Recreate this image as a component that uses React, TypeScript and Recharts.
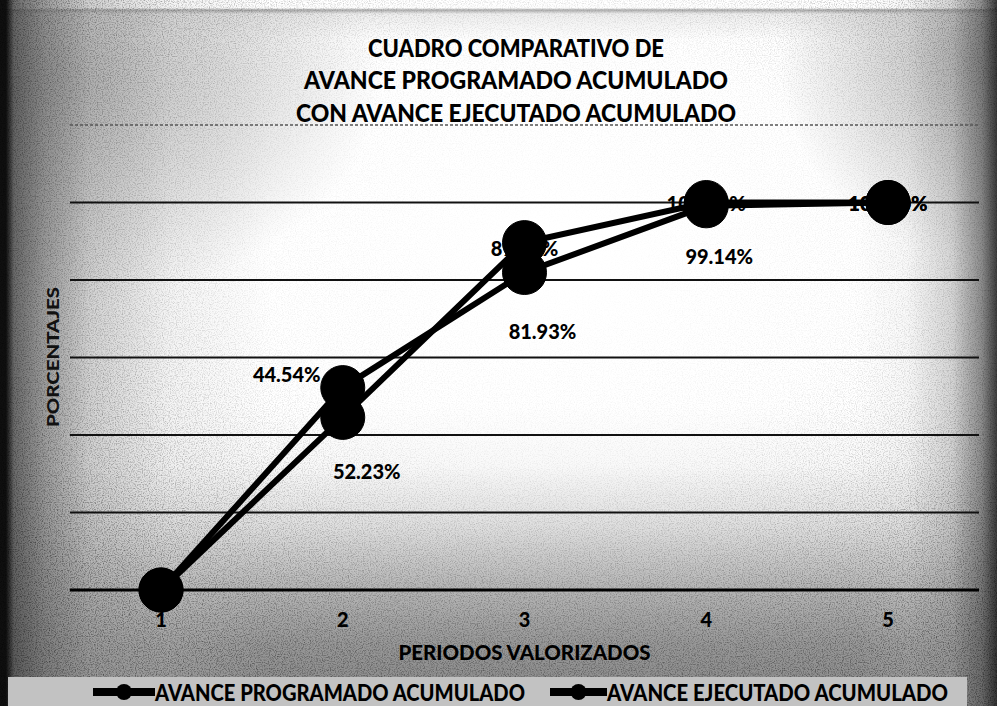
import React from 'react';
import { LineChart, Line, XAxis, YAxis, CartesianGrid, Legend, LabelList } from 'recharts';

// ---- data ----
const periods = ['1', '2', '3', '4', '5'];
const programado = [0, 44.54, 89.65, 100.0, 100.0];
const ejecutado = [0, 52.23, 81.93, 99.14, 100.0];
const yTicks = [0, 20, 40, 60, 80, 100, 120];
const titleLines = ['CUADRO COMPARATIVO DE', 'AVANCE PROGRAMADO ACUMULADO', 'CON AVANCE EJECUTADO ACUMULADO'];
const seriesNames = ['AVANCE PROGRAMADO ACUMULADO', 'AVANCE EJECUTADO ACUMULADO'];
const xTitle = 'PERIODOS VALORIZADOS';
const yTitle = 'PORCENTAJES';

const data = periods.map((p, i) => ({ periodo: p, programado: programado[i], ejecutado: ejecutado[i] }));

// ---- styling ----
const W = 997;
const H = 706;
const FONT = 'Lato, "Open Sans", sans-serif';
// label offsets (dx, dy) from each point, per series
const progLabelOffsets: (number[] | null)[] = [null, [-56, -43], [0, 5], [0, 0], [0, 0]];
const ejecLabelOffsets: (number[] | null)[] = [null, [24, 83], [18, 58], [13, 50], [0, 0]];

const makeLabel = (offsets: (number[] | null)[]) => (props: any) => {
  const { x, y, value, index } = props;
  const off = offsets[index];
  if (!off) return null;
  return (
    <text
      x={x + off[0]}
      y={y + off[1]}
      textAnchor="middle"
      dominantBaseline="central"
      fill="#000"
      fontFamily={FONT}
      fontWeight={900}
      fontSize={20}
    >
      {Number(value).toFixed(2)}%
    </text>
  );
};

const EmptyTick = () => <g />;

const GridLine = (props: any) => {
  const { x1, x2, y1, y2 } = props;
  const isTop = y1 < 130;
  return (
    <line
      x1={x1}
      x2={x2}
      y1={y1}
      y2={y2}
      stroke={isTop ? '#555' : '#111'}
      strokeWidth={isTop ? 1.5 : 2}
      strokeDasharray={isTop ? '3 2' : undefined}
    />
  );
};

const renderLegend = (props: any) => {
  const payload = props.payload || [];
  const itemX = [85, 542];
  const iconW = [62, 57];
  const textW = [370, 341];
  return (
    <svg width={959} height={29} style={{ display: 'block', overflow: 'visible' }}>
      {payload.map((entry: any, i: number) => (
        <g key={i}>
          <line x1={itemX[i]} x2={itemX[i] + iconW[i]} y1={15} y2={15} stroke="#000" strokeWidth={8} />
          <circle cx={itemX[i] + iconW[i] / 2} cy={15} r={8} fill="#000" />
          <text
            x={itemX[i] + iconW[i]}
            y={15}
            dominantBaseline="central"
            fill="#000"
            fontFamily={FONT}
            fontWeight={900}
            fontSize={22}
            textLength={textW[i]}
            lengthAdjust="spacingAndGlyphs"
          >
            {seriesNames[i]}
          </text>
        </g>
      ))}
    </svg>
  );
};

const XTitle = (props: any) => {
  const vb = props.viewBox || {};
  return (
    <text
      x={vb.x + vb.width / 2}
      y={vb.y + 62}
      textAnchor="middle"
      dominantBaseline="central"
      fill="#000"
      fontFamily={FONT}
      fontWeight={900}
      fontSize={20}
      textLength={252}
      lengthAdjust="spacingAndGlyphs"
    >
      {xTitle}
    </text>
  );
};

const YTitle = () => {
  const cx = 52;
  const cy = 357;
  return (
    <text
      x={cx}
      y={cy}
      transform={`rotate(-90 ${cx} ${cy})`}
      textAnchor="middle"
      dominantBaseline="central"
      fill="#111"
      fontFamily={FONT}
      fontWeight={900}
      fontSize={17}
      textLength={140}
      lengthAdjust="spacingAndGlyphs"
    >
      {yTitle}
    </text>
  );
};

const bg = [
  'linear-gradient(to right, rgba(15,15,15,1) 0px, rgba(15,15,15,1) 6px, rgba(80,80,80,0.85) 14px, rgba(115,115,115,0.7) 45px, rgba(155,155,155,0.45) 90px, rgba(200,200,200,0.2) 170px, rgba(255,255,255,0) 270px)',
  'linear-gradient(to left, rgba(40,40,40,0.9) 0px, rgba(90,90,90,0.7) 15px, rgba(150,150,150,0.4) 45px, rgba(210,210,210,0.15) 90px, rgba(255,255,255,0) 140px)',
  'linear-gradient(to top, rgba(115,115,115,0.85) 0px, rgba(125,125,125,0.8) 60px, rgba(145,145,145,0.65) 120px, rgba(175,175,175,0.4) 180px, rgba(215,215,215,0.15) 240px, rgba(255,255,255,0) 300px)',
  'linear-gradient(to bottom, rgba(255,255,255,1) 0px, rgba(255,255,255,1) 8px, rgba(120,120,120,0.6) 10px, rgba(200,200,200,0.3) 14px, rgba(255,255,255,0) 40px)',
  'radial-gradient(ellipse 320px 220px at 60px 80px, rgba(140,140,140,0.6), rgba(255,255,255,0))',
  'radial-gradient(ellipse 200px 200px at 980px 60px, rgba(140,140,140,0.6), rgba(255,255,255,0))',
  'linear-gradient(#ffffff, #ffffff)',
].join(',');

export default function App() {
  return (
    <div style={{ position: 'absolute', left: 0, top: 0, width: W, height: H, background: bg, overflow: 'hidden' }}>
      <svg width={W} height={H} style={{ position: 'absolute', left: 0, top: 0 }}>
        <defs>
          <filter id="scanNoise" x="0" y="0" width="100%" height="100%">
            <feTurbulence type="fractalNoise" baseFrequency="0.85" numOctaves="2" seed="7" />
            <feColorMatrix type="matrix" values="0 0 0 0 0  0 0 0 0 0  0 0 0 0 0  0 0 0 -2.2 1.25" />
          </filter>
          <radialGradient id="noiseMaskGrad" cx="0.56" cy="0.36" r="0.66">
            <stop offset="0" stopColor="#000" />
            <stop offset="0.45" stopColor="#222" />
            <stop offset="0.8" stopColor="#aaa" />
            <stop offset="1" stopColor="#eee" />
          </radialGradient>
          <mask id="noiseMask">
            <rect x={0} y={0} width={W} height={H} fill="url(#noiseMaskGrad)" />
          </mask>
        </defs>
        <rect x={0} y={0} width={W} height={H} filter="url(#scanNoise)" mask="url(#noiseMask)" opacity={0.5} />
      </svg>

      <svg width={W} height={130} style={{ position: 'absolute', left: 0, top: 0 }}>
        {titleLines.map((t, i) => (
          <text
            key={i}
            x={516}
            y={47 + i * 32.5}
            textAnchor="middle"
            dominantBaseline="central"
            fill="#000"
            fontFamily={FONT}
            fontWeight={900}
            fontSize={24}
            textLength={[296, 424, 440][i]}
            lengthAdjust="spacingAndGlyphs"
          >
            {t}
          </text>
        ))}
      </svg>

      <div style={{ position: 'absolute', left: 0, top: 0 }}>
        <LineChart width={W} height={H} data={data} margin={{ top: 125, right: 18, left: 0, bottom: 7 }}>
          <CartesianGrid horizontal={GridLine} vertical={false} />
          <XAxis
            dataKey="periodo"
            height={80}
            padding={{ left: 91, right: 91 }}
            tickLine={false}
            tickSize={6}
            tickMargin={17}
            axisLine={{ stroke: '#000', strokeWidth: 3 }}
            tick={{ fill: '#000', fontSize: 20, fontWeight: 900, fontFamily: FONT }}
            label={<XTitle />}
          />
          <YAxis
            width={70}
            domain={[0, 120]}
            ticks={yTicks}
            interval={0}
            tick={EmptyTick}
            tickLine={false}
            axisLine={false}
            label={<YTitle />}
          />
          <Legend
            layout="vertical"
            align="center"
            verticalAlign="bottom"
            content={renderLegend}
            wrapperStyle={{ left: 8, top: 677, bottom: 'auto', width: 959, height: 29, background: '#c2c2c2' }}
          />
          <Line
            type="linear"
            dataKey="programado"
            name={seriesNames[0]}
            stroke="#000"
            strokeWidth={6}
            dot={{ r: 22, fill: '#000', stroke: '#000', strokeWidth: 1 }}
            activeDot={false}
            legendType="line"
            isAnimationActive={false}
          >
            <LabelList dataKey="programado" content={makeLabel(progLabelOffsets)} />
          </Line>
          <Line
            type="linear"
            dataKey="ejecutado"
            name={seriesNames[1]}
            stroke="#000"
            strokeWidth={6}
            dot={{ r: 22, fill: '#000', stroke: '#000', strokeWidth: 1 }}
            activeDot={false}
            legendType="line"
            isAnimationActive={false}
          >
            <LabelList dataKey="ejecutado" content={makeLabel(ejecLabelOffsets)} />
          </Line>
        </LineChart>
      </div>
    </div>
  );
}
